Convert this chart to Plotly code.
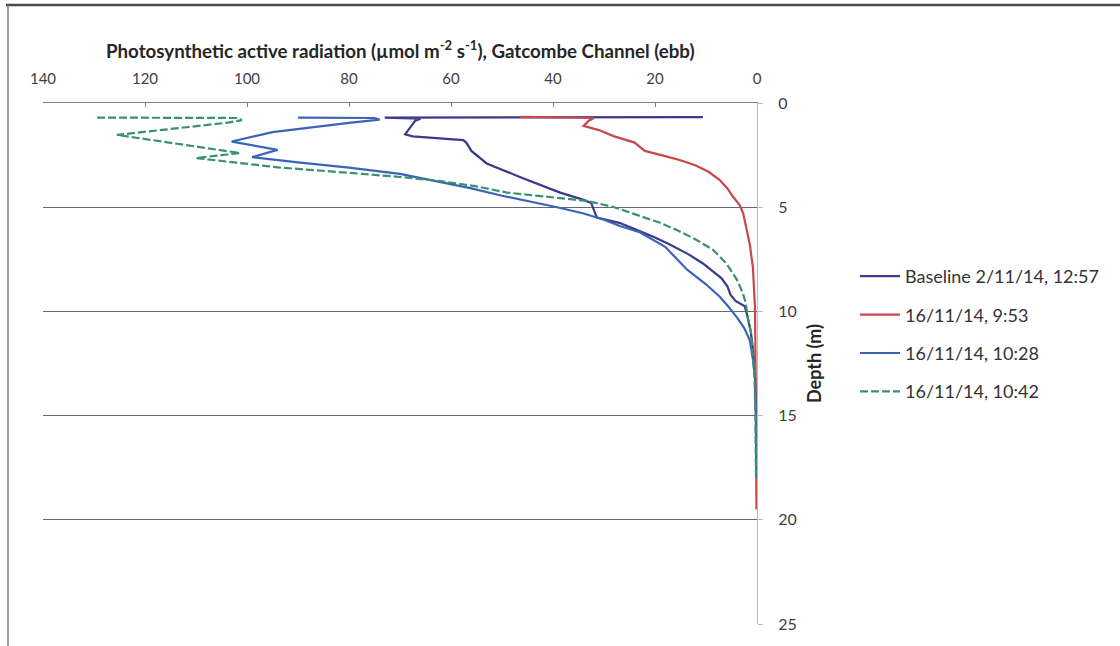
import plotly.graph_objects as go

# PAR profiles, Gatcombe Channel (ebb): PAR value (umol m-2 s-1) against depth (m)
baseline_par = [10.6, 73, 66, 67, 69, 67.5, 57.6, 57, 56, 54.3, 53, 46.5, 38.6, 34, 32.5, 31.4,
                27, 23.5, 20, 17, 13.5, 10.6, 8.5, 7, 5.8, 5.2, 4.2, 2.4, 1.8, 1.2, 0.7, 0.4, 0.2, 0.1]
baseline_depth = [0.68, 0.70, 0.75, 0.85, 1.5, 1.6, 1.78, 1.9, 2.3, 2.64, 2.9, 3.55, 4.3, 4.65, 4.8, 5.5,
                  5.75, 6.1, 6.45, 6.8, 7.25, 7.7, 8.1, 8.4, 8.8, 9.2, 9.5, 9.75, 10.3, 11, 12, 13, 14.5, 16]

t0953_par = [46.5, 32, 33, 34, 31, 28, 24, 22, 18, 15, 12, 9.5, 7.3, 5.8, 4.7, 3.4, 2.7, 2.2,
             1.4, 0.8, 0.5, 0.4, 0.3, 0.2, 0.1]
t0953_depth = [0.67, 0.72, 0.85, 1.1, 1.3, 1.6, 1.9, 2.3, 2.55, 2.75, 3.0, 3.3, 3.7, 4.1, 4.5, 4.9,
               5.3, 5.9, 6.8, 7.9, 9.0, 9.8, 12, 15, 19.5]

t1028_par = [90, 75, 74, 80, 95, 103, 94, 99, 90, 80, 70, 62, 56, 50, 44, 39.2, 34, 30, 26.9, 23,
             18, 13.7, 10, 7.3, 5.5, 3.9, 2.5, 1.4, 0.8, 0.4, 0.2, 0.1]
t1028_depth = [0.7, 0.72, 0.8, 0.95, 1.4, 1.85, 2.25, 2.6, 2.85, 3.1, 3.4, 3.8, 4.1, 4.45, 4.75, 5.0,
               5.3, 5.6, 5.9, 6.2, 6.9, 8.0, 8.7, 9.3, 9.8, 10.3, 10.8, 11.4, 12.3, 13.2, 15, 18]

t1042_par = [129.4, 102, 101, 104, 125.5, 115, 101.4, 110, 93.5, 80, 70, 62, 55, 49, 41, 33.3,
             28, 23, 19, 15.7, 12, 8.6, 6, 3.9, 2.8, 2.2, 1.8, 1.2, 0.8, 0.5, 0.3, 0.2]
t1042_depth = [0.7, 0.72, 0.82, 0.95, 1.53, 1.9, 2.4, 2.64, 3.1, 3.35, 3.55, 3.75, 4.0, 4.3, 4.5, 4.7,
               5.0, 5.4, 5.75, 6.1, 6.55, 7.05, 7.7, 8.5, 9.1, 9.6, 10.3, 11, 12, 13, 15, 18]

series = [
    ("Baseline 2/11/14, 12:57", baseline_par, baseline_depth, "#3a3a8c", "solid"),
    ("16/11/14, 9:53", t0953_par, t0953_depth, "#c8484a", "solid"),
    ("16/11/14, 10:28", t1028_par, t1028_depth, "#3b64b8", "solid"),
    ("16/11/14, 10:42", t1042_par, t1042_depth, "#3a9070", "8px,3px"),
]

x_ticks = [0, 20, 40, 60, 80, 100, 120, 140]
y_ticks = [0, 5, 10, 15, 20, 25]

fig = go.Figure()
for i, (name, par, depth, color, dash) in enumerate(series):
    fig.add_trace(go.Scatter(
        x=par, y=depth, mode="lines", name=name, legendgroup=str(i),
        line=dict(color=color, width=2.2, dash=dash),
    ))

font_family = "Lato, 'Open Sans', sans-serif"

# plot area in pixels: x 43..757, y 103..624
L, R, T, B = 43, 757, 103, 624
W, H = 1120, 646


def px(x):
    return (x - L) / (R - L)


def py(y):
    return 1 - (y - T) / (B - T)


fig.update_layout(
    width=W, height=H,
    margin=dict(l=L, r=W - R, t=T, b=H - B, pad=0),
    paper_bgcolor="white", plot_bgcolor="white",
    font=dict(family=font_family, size=15, color="#404040"),
    showlegend=True,
    legend=dict(
        x=px(855), y=py(334), xanchor="left", yanchor="middle",
        traceorder="grouped", tracegroupgap=12, itemwidth=40,
        font=dict(size=18, color="#333333"), bgcolor="rgba(0,0,0,0)",
    ),
    xaxis=dict(
        side="top", range=[140, 0], tickvals=x_ticks,
        showgrid=False, zeroline=False,
        showline=True, linecolor="#7f7f8a", linewidth=1.2,
        ticks="inside", ticklen=4, tickcolor="#7f7f8a",
        ticklabelstandoff=12,
        tickfont=dict(size=15, color="#404040"),
    ),
    yaxis=dict(
        side="right", range=[25, 0], tickvals=y_ticks,
        showgrid=True, gridcolor="#66667a", gridwidth=1,
        zeroline=False,
        showline=True, linecolor="#b8b8c0", linewidth=1,
        ticks="outside", ticklen=5, tickcolor="#b8b8c0",
        ticklabelstandoff=12,
        tickfont=dict(size=16, color="#404040"),
        title=dict(text="<b>Depth (m)</b>", font=dict(size=18, color="#262626"), standoff=12),
    ),
    annotations=[dict(
        text="<b>Photosynthetic active radiation (µmol m<sup>-2</sup> s<sup>-1</sup>), Gatcombe Channel (ebb)</b>",
        xref="paper", yref="paper", x=0.5, y=py(49), xanchor="center", yanchor="middle",
        showarrow=False, font=dict(size=18.7, color="#262626"),
    )],
    shapes=[
        dict(type="line", xref="paper", yref="paper", x0=px(6), x1=px(1120), y0=py(5), y1=py(5),
             line=dict(color="#4a4a55", width=2.5)),
        dict(type="line", xref="paper", yref="paper", x0=px(8), x1=px(8), y0=py(5), y1=py(646),
             line=dict(color="#7a7a80", width=1.5)),
    ],
)

fig.write_html("out.html")
